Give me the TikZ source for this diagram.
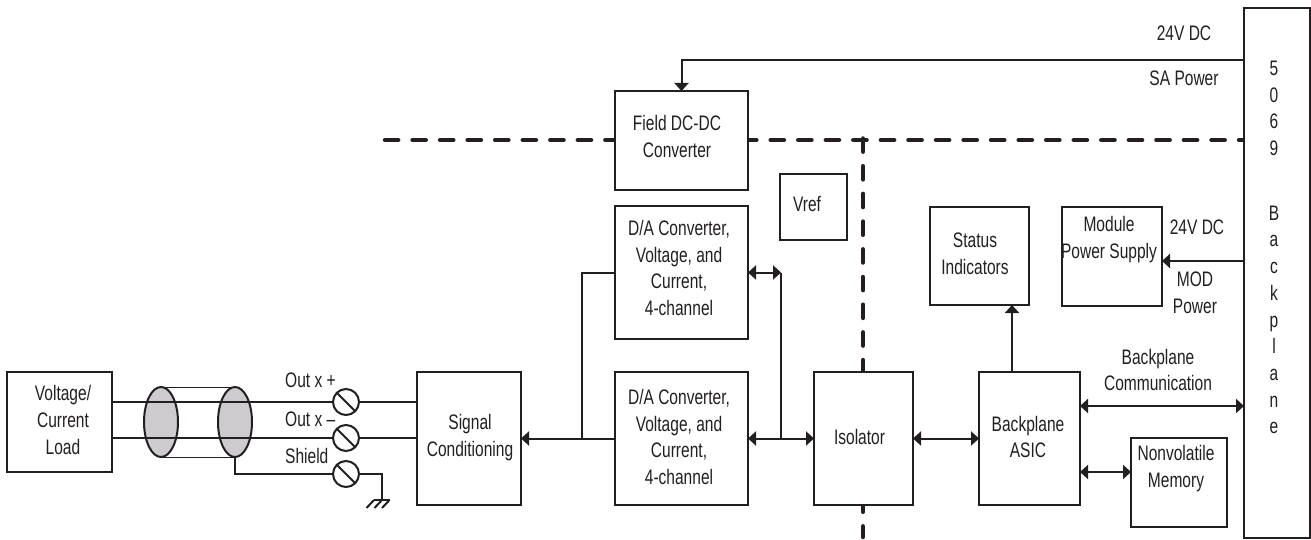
\documentclass[tikz,border=0pt]{standalone}
\usepackage{xcolor}
\usepackage{fontspec}
\setmainfont[FakeStretch=0.74]{Liberation Sans}
\usetikzlibrary{shapes.geometric, arrows.meta, positioning}
\definecolor{cablefill}{RGB}{205,203,206}
\definecolor{inkline}{RGB}{35,31,32}

\begin{document}
\begin{tikzpicture}[
  x=1pt, y=-1pt, color=inkline,
  txt/.style={align=center, inner sep=0pt, font=\fontsize{21}{26.7}\selectfont},
  box/.style={rectangle, draw, fill=white, line width=2pt, outer sep=0pt, inner sep=0pt},
  wire/.style={line width=2pt},
  arrow/.style={-{Triangle[length=8pt,width=14pt]}, line width=2pt},
  dblarrow/.style={{Triangle[length=8pt,width=14pt]}-{Triangle[length=8pt,width=14pt]}, line width=2pt},
  boundary/.style={line width=4.5pt, line cap=round},
  cable/.style={ellipse, draw, fill=cablefill, line width=2pt, minimum width=34pt, minimum height=70pt, inner sep=0pt, outer sep=0pt},
  screw/.style={circle, draw, line width=2pt, minimum size=26pt, inner sep=0pt, outer sep=0pt, fill=white,
    path picture={\draw[wire] (path picture bounding box.north west) -- (path picture bounding box.south east);}},
]
\useasboundingbox (0,0) rectangle (1311,540);

% isolation boundaries
\coordinate (bndw) at (385,140);
\coordinate (bnde) at (1244,140);
\coordinate (bndn) at (863,138.5);
\coordinate (bnds) at (863,537);
\draw[boundary, dash pattern=on 13.2pt off 14.35pt] (bndw) -- (bnde);
\draw[boundary, dash pattern=on 13.2pt off 14.5pt] (bndn) -- (bnds);

% blocks
\node[box, minimum width=133pt, minimum height=133pt, label={[txt, shift={(-2.5pt,1.5pt)}]center:{D/A Converter,\\Voltage, and\\Current,\\4-channel}}] (da2) at (681.5,438.5) {};
\node[box, minimum width=133pt, minimum height=133pt, above=33pt of da2, label={[txt, shift={(-2.5pt,4.5pt)}]center:{D/A Converter,\\Voltage, and\\Current,\\4-channel}}] (da1) {};
\node[box, minimum width=133pt, minimum height=99pt, above=16pt of da1, label={[txt, shift={(-4.5pt,4pt)}]center:{Field DC-DC\\Converter}}] (fdc) {};
\node[box, minimum width=104pt, minimum height=133pt, left=94pt of da2, label={[txt, shift={(1pt,1pt)}]center:{Signal\\Conditioning}}] (sig) {};
\node[box, minimum width=99pt, minimum height=133pt, right=66pt of da2, label={[txt, shift={(-4pt,1.5pt)}]center:{Isolator}}] (iso) {};
\node[box, minimum width=101pt, minimum height=133pt, right=66pt of iso, label={[txt, shift={(-1.5pt,1.5pt)}]center:{Backplane\\ASIC}}] (asic) {};
\node[box, minimum width=67pt, minimum height=66pt, label={[txt, shift={(-6.5pt,3pt)}]center:{Vref}}] (vref) at (813.5,207) {};
\node[box, minimum width=99pt, minimum height=98pt, label={[txt, shift={(-4.5pt,2pt)}]center:{Status\\Indicators}}] (status) at (979.5,256) {};
\node[box, minimum width=100pt, minimum height=99pt, label={[txt, shift={(-3pt,17pt)}]center:{Module\\Power Supply}}] (module) at (1112,256.5) {};
\node[box, minimum width=96pt, minimum height=89pt, label={[txt, shift={(-3pt,14pt)}]center:{Nonvolatile\\Memory}}] (nvm) at (1179,482.5) {};
\node[box, minimum width=66pt, minimum height=530pt, label={[txt, shift={(-3pt,25.5pt)}]center:{5\\0\\6\\9\\[38pt]B\\a\\c\\k\\p\\l\\a\\n\\e}}] (back) at (1277,273) {};
\node[box, minimum width=105pt, minimum height=100pt, label={[txt, shift={(3.5pt,2pt)}]center:{Voltage/\\Current\\Load}}] (load) at (59.5,422) {};

% output terminals and cable
\node[screw] (scp) at (346,402) {};
\node[screw] (scm) at (346,438) {};
\node[screw] (scs) at (346,474) {};
\node[cable] (cab1) at (161,422) {};
\node[cable] (cab2) at (235,422) {};
\draw[line width=0.8pt] (cab1.north) -- (cab2.north);
\draw[line width=0.8pt] (cab1.south) -- (cab2.south);
\draw[wire] (load.east |- scp) -- (scp) -- (scp -| sig.west);
\draw[wire] (load.east |- scm) -- (scm) -- (scm -| sig.west);
\coordinate (gnd) at (382,500);
\draw[wire] (cab2.south) |- (scs);
\draw[wire] (scs) -| (gnd);
\coordinate (gndw) at (374,500);
\coordinate (gnde) at (389.5,500);
\draw[wire] (gndw) -- (gnde);
\foreach \hx in {374,382,389.5}
  \draw[wire] (\hx,500) -- ++(-7.5,8);
\node[txt, anchor=west] (lblp) at (285,380) {Out x +};
\node[txt, anchor=west] (lblm) at (285,419) {Out x –};
\node[txt, anchor=west] (lbls) at (285,456) {Shield};

% signal path
\coordinate (tap) at (582,438.5);
\coordinate (busup) at (781,272.5);
\coordinate (busdn) at (781,438.5);
\draw[arrow] (da2) -- (sig);
\draw[wire] (tap) |- (da1.west);
\draw[dblarrow] (da1) -- (busup);
\draw[wire] (busup) -- (busdn);
\draw[dblarrow] (da2) -- (iso);
\draw[dblarrow] (iso) -- (asic);

% backplane side
\coordinate (stat) at (1012,372);
\coordinate (comm) at (1244,406);
\coordinate (nvmp) at (1131,472);
\coordinate (modp) at (1244,261);
\coordinate (sap) at (1244,60);
\draw[arrow] (stat) -- (stat |- status.south);
\draw[dblarrow] (comm -| asic.east) -- (comm);
\draw[dblarrow] (nvmp -| asic.east) -- (nvmp);
\draw[arrow] (modp) -- (modp -| module.east);
\draw[arrow] (sap) -| (fdc.north);

\node[txt] (lbl24a) at (1184,33) {24V DC};
\node[txt] (lblsa) at (1184,78) {SA Power};
\node[txt] (lbl24b) at (1197,227) {24V DC};
\node[txt] (lblmod) at (1195,292.5) {MOD\\Power};
\node[txt] (lblcomm) at (1158,370) {Backplane\\Communication};
\end{tikzpicture}
\end{document}
